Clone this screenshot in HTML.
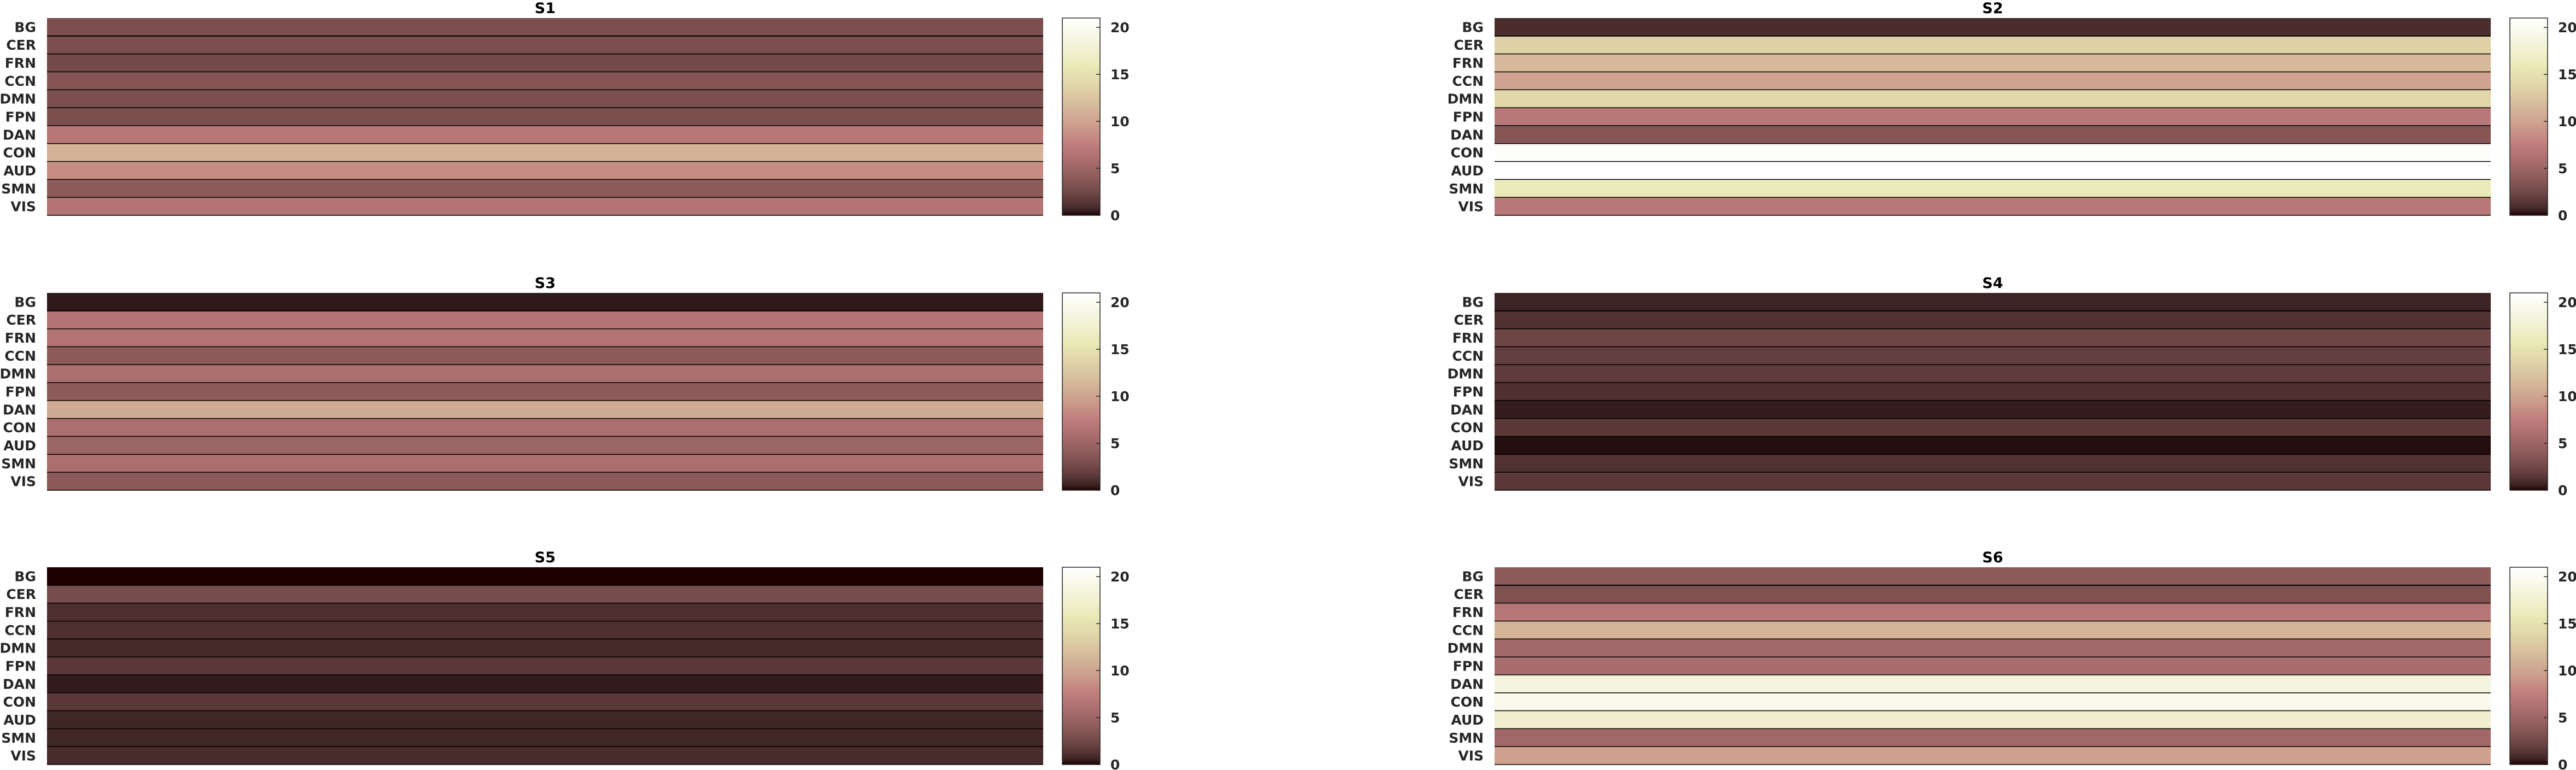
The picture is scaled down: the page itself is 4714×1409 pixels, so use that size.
<!DOCTYPE html>
<html><head><meta charset="utf-8"><style>
html,body{margin:0;padding:0;background:#fff;}
svg{display:block;font-family:"DejaVu Sans","Liberation Sans",sans-serif;font-weight:bold;}
</style></head><body>
<svg id="chart" width="4714" height="1409" viewBox="0 0 4714 1409" xmlns="http://www.w3.org/2000/svg"></svg>
<script>
const regions = ["BG","CER","FRN","CCN","DMN","FPN","DAN","CON","AUD","SMN","VIS"];
const panelTitles = ["S1","S2","S3","S4","S5","S6"];
const s1Values = [3.0,3.0,2.6,3.5,3.0,3.1,6.8,11.0,8.5,4.0,6.5];
const s2Values = [1.0,13.5,11.5,10.0,14.0,7.0,3.6,20.5,21.0,16.0,7.0];
const s3Values = [0.3,6.5,6.5,4.0,6.0,4.0,10.5,6.0,5.0,6.0,3.8];
const s4Values = [0.6,1.2,2.3,1.9,1.7,1.1,0.4,1.5,0.1,1.2,1.5];
const s5Values = [0.0,2.8,1.1,1.1,0.85,1.5,0.35,1.5,0.7,0.7,0.9];
const s6Values = [4.0,3.2,6.7,11.2,5.2,5.8,18.5,19.5,17.5,5.2,9.8];
const colorbarTicks = [0,5,10,15,20];
const vmin = 0, vmax = 21;

const allValues = [s1Values,s2Values,s3Values,s4Values,s5Values,s6Values];
const NS = "http://www.w3.org/2000/svg";
const svg = document.getElementById("chart");

function clip(v){return Math.max(0,Math.min(1,v));}
function pink(t){
  t = clip(t);
  const hr = clip(0.0416 + (1-0.0416)*t/0.365079);
  const hg = clip((t-0.365079)/(0.746032-0.365079));
  const hb = clip((t-0.746032)/(1-0.746032));
  const r = Math.sqrt((2*t+hr)/3), g = Math.sqrt((2*t+hg)/3), b = Math.sqrt((2*t+hb)/3);
  return `rgb(${Math.round(r*255)},${Math.round(g*255)},${Math.round(b*255)})`;
}
function mk(tag, attrs){
  const e = document.createElementNS(NS, tag);
  for (const k in attrs) e.setAttribute(k, attrs[k]);
  return e;
}

const colX = [86, 2735];
const rowY = [33, 536, 1038];
const W = 1823, H = 361;
const rh = H / regions.length;

allValues.forEach((vals, p) => {
  const x0 = colX[p % 2], y0 = rowY[Math.floor(p / 2)];
  const g = mk("g", {});
  
  
  svg.appendChild(g);

  const title = mk("text", {x: x0 + W/2, y: y0 - 9, "text-anchor": "middle", "font-size": 27, fill: "#000"});
  title.textContent = panelTitles[p];
  
  
  g.appendChild(title);

  const yScale = i => y0 + i * rh;
  vals.forEach((v, i) => {
    const r = mk("rect", {x: x0, y: yScale(i), width: W, height: rh, fill: pink((v - vmin)/(vmax - vmin))});
    
    
    g.appendChild(r);
    const lb = mk("text", {x: x0 - 20, y: yScale(i) + rh/2 + 9, "text-anchor": "end", "font-size": 25, fill: "#262626"});
    lb.textContent = regions[i];
    
    
    g.appendChild(lb);
  });
  for (let i = 1; i <= regions.length; i++) {
    const ln = mk("line", {x1: x0, x2: x0 + W, y1: yScale(i), y2: yScale(i), stroke: "#000", "stroke-width": i === 1 ? 2 : 1.5});
    
    
    g.appendChild(ln);
  }

  const cx = x0 + W + 35, cw = 69;
  const gid = "grad" + p;
  const grad = mk("linearGradient", {id: gid, x1: 0, y1: 1, x2: 0, y2: 0});
  for (let s = 0; s <= 40; s++) {
    grad.appendChild(mk("stop", {offset: s/40, "stop-color": pink(s/40)}));
  }
  const defs = mk("defs", {}); defs.appendChild(grad); g.appendChild(defs);
  const cb = mk("rect", {x: cx, y: y0, width: cw, height: H, fill: `url(#${gid})`, stroke: "#262626", "stroke-width": 1.5});
  
  
  g.appendChild(cb);
  const cScale = v => y0 + H - (v - vmin)/(vmax - vmin) * H;
  colorbarTicks.forEach(t => {
    const tk = mk("line", {x1: cx + cw - 7, x2: cx + cw, y1: cScale(t), y2: cScale(t), stroke: "#262626", "stroke-width": 1.5});
    
    
    g.appendChild(tk);
    const tl = mk("text", {x: cx + cw + 19, y: cScale(t) + 9, "font-size": 25, fill: "#262626"});
    tl.textContent = t;
    
    
    g.appendChild(tl);
  });
});
</script>
</body></html>
